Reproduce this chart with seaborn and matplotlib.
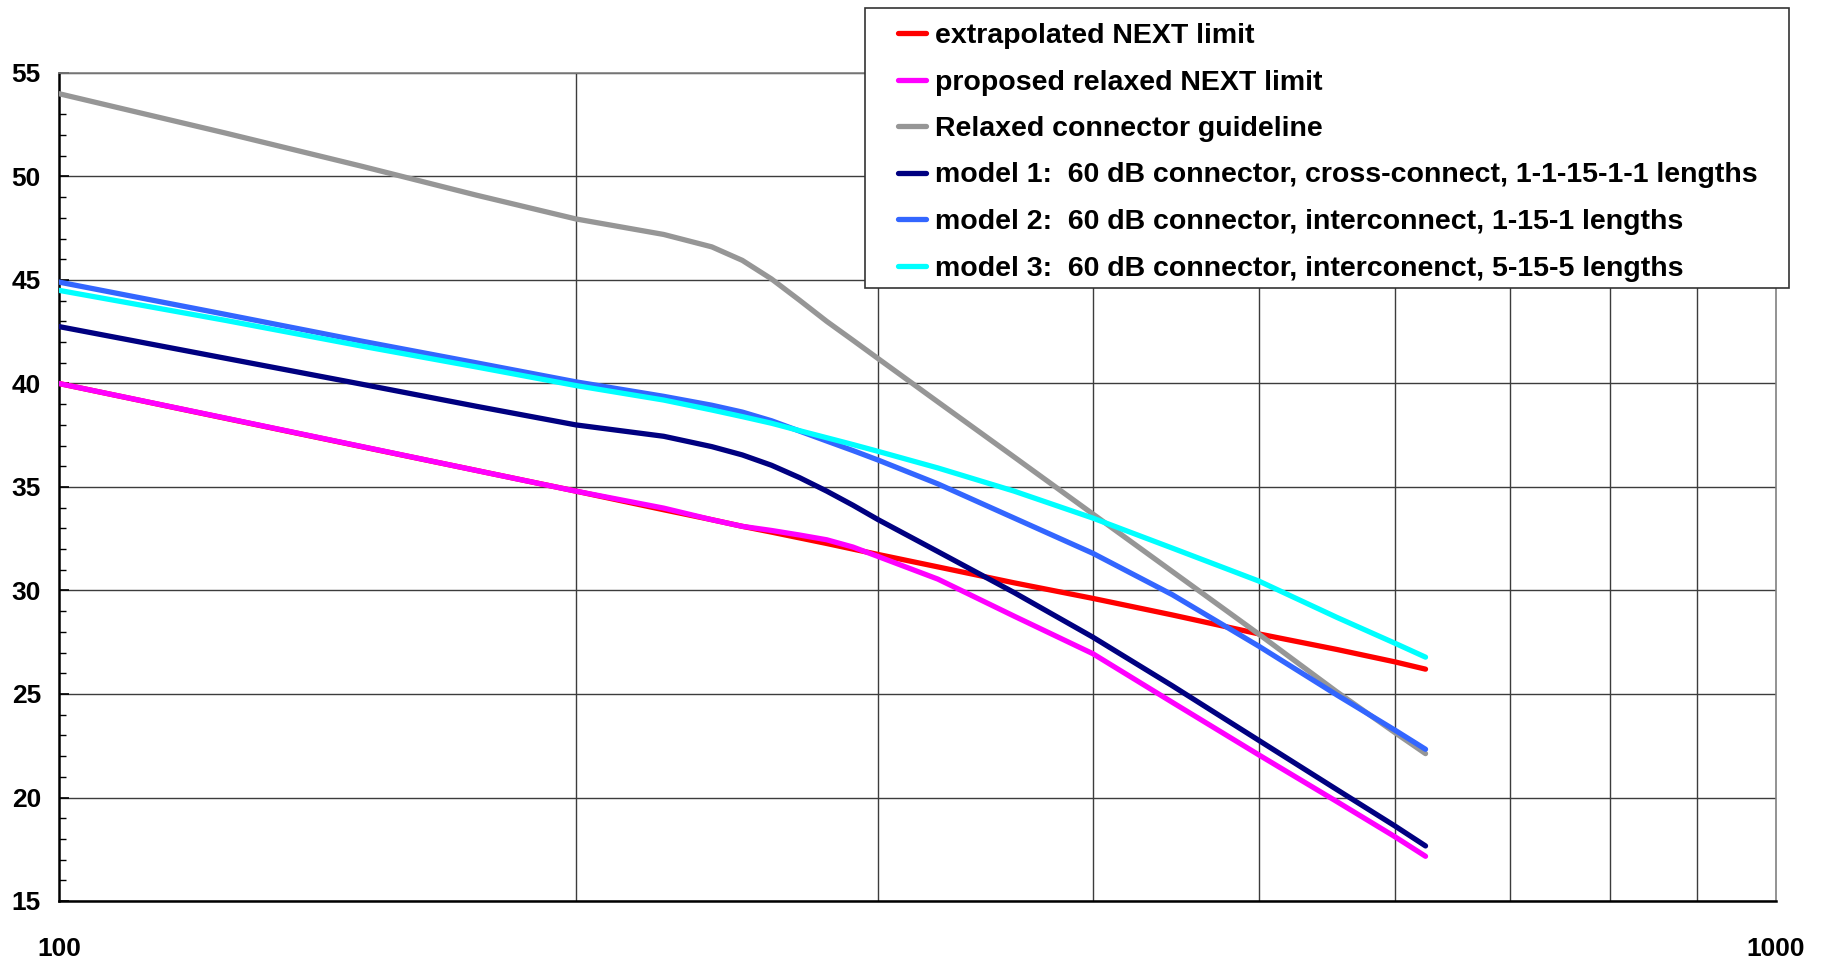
import numpy as np
import pandas as pd
import matplotlib
matplotlib.use("Agg")
import matplotlib.pyplot as plt
import seaborn as sns
from matplotlib.lines import Line2D
from matplotlib.patches import Rectangle
from matplotlib.ticker import LogLocator, NullFormatter, MultipleLocator, FixedLocator, FixedFormatter

# Frequency points (MHz)
freq = [100, 125, 150, 175, 200, 225, 240, 250, 260, 270, 280, 290, 300,
        325, 360, 400, 445, 500, 555, 600, 625]

# NEXT values (dB) for each curve
extrapolated_next = [40.0, 38.32, 36.95, 35.8, 34.8, 33.9, 33.42, 33.1, 32.82, 32.54, 32.27,
                     32.0, 31.74, 31.14, 30.37, 29.62, 28.82, 27.9, 27.15, 26.55, 26.2]
proposed_relaxed = [40.0, 38.33, 36.96, 35.8, 34.8, 33.98, 33.42, 33.1, 32.9, 32.68, 32.45,
                    32.1, 31.64, 30.55, 28.76, 26.95, 24.6, 22.05, 19.8, 18.1, 17.16]
relaxed_guideline = [54.0, 52.1, 50.5, 49.1, 47.95, 47.2, 46.6, 45.95, 45.05, 44.02, 43.0,
                     42.09, 41.2, 39.11, 36.45, 33.7, 30.92, 27.88, 25.1, 23.13, 22.12]
model_1 = [42.75, 41.22, 39.97, 38.9, 38.0, 37.45, 36.95, 36.55, 36.05, 35.45, 34.8,
           34.12, 33.42, 31.88, 29.9, 27.75, 25.4, 22.75, 20.38, 18.62, 17.66]
model_2 = [44.9, 43.34, 42.05, 41.0, 40.08, 39.38, 38.95, 38.62, 38.2, 37.7, 37.22,
           36.76, 36.3, 35.15, 33.5, 31.8, 29.8, 27.3, 24.95, 23.25, 22.33]
model_3 = [44.5, 43.05, 41.81, 40.8, 39.9, 39.2, 38.72, 38.4, 38.08, 37.72, 37.38,
           37.05, 36.72, 35.92, 34.8, 33.5, 32.05, 30.45, 28.7, 27.45, 26.78]

series_names = [
    "extrapolated NEXT limit",
    "proposed relaxed NEXT limit",
    "Relaxed connector guideline",
    "model 1:  60 dB connector, cross-connect, 1-1-15-1-1 lengths",
    "model 2:  60 dB connector, interconnect, 1-15-1 lengths",
    "model 3:  60 dB connector, interconenct, 5-15-5 lengths",
]
series_values = [extrapolated_next, proposed_relaxed, relaxed_guideline, model_1, model_2, model_3]
series_colors = ["#FF0000", "#FF00FF", "#969696", "#000080", "#3366FF", "#00FFFF"]

x_tick_values = [100, 1000]
x_tick_labels = ["100", "1000"]

df = pd.concat(
    [pd.DataFrame({"freq": freq, "value": vals, "series": name})
     for name, vals in zip(series_names, series_values)],
    ignore_index=True,
)

sns.set_theme(style="white")
plt.rcParams["font.family"] = ["Liberation Sans", "DejaVu Sans"]
plt.rcParams["font.weight"] = "bold"
plt.rcParams["text.color"] = "black"
plt.rcParams["xtick.color"] = "black"
plt.rcParams["ytick.color"] = "black"

W, H = 1821, 960
fig = plt.figure(figsize=(W / 100, H / 100), dpi=100)
ax = fig.add_axes([59 / W, 59 / H, (1776 - 59) / W, (901 - 73) / H])

palette = dict(zip(series_names, series_colors))
sns.lineplot(data=df, x="freq", y="value", hue="series", hue_order=series_names,
             palette=palette, linewidth=3.8, estimator=None, sort=False,
             legend=False, ax=ax)
for ln in ax.get_lines():
    ln.set_solid_capstyle("round")
    ln.set_solid_joinstyle("round")
    ln.set_zorder(3)

ax.set_xscale("log")
ax.set_xlim(100, 1000)
ax.set_ylim(15, 55)
ax.set_xlabel("")
ax.set_ylabel("")

# x axis: only the decade ends are labelled, grid on every hundred
ax.xaxis.set_major_locator(FixedLocator(x_tick_values))
ax.xaxis.set_major_formatter(FixedFormatter(x_tick_labels))
ax.xaxis.set_minor_locator(LogLocator(base=10, subs=range(2, 10)))
ax.xaxis.set_minor_formatter(NullFormatter())
ax.tick_params(axis="x", which="both", length=0, pad=26, labelsize=19, labelcolor="black")

ax.yaxis.set_major_locator(MultipleLocator(5))
ax.yaxis.set_minor_locator(MultipleLocator(1))
ax.tick_params(axis="y", which="major", direction="in", length=7, width=1.2,
               color="black", pad=13, labelsize=19, left=True, labelcolor="black")
ax.tick_params(axis="y", which="minor", direction="in", length=5, width=1.0,
               color="black", left=True)
for lab in ax.get_xticklabels() + ax.get_yticklabels():
    lab.set_fontweight("bold")

ax.grid(False)
ax.grid(True, axis="y", which="major", color="#3c3c3c", linewidth=1.0)
ax.grid(True, axis="x", which="minor", color="#3c3c3c", linewidth=1.0)
ax.set_axisbelow(True)

ax.spines["left"].set_color("black")
ax.spines["left"].set_linewidth(1.8)
ax.spines["bottom"].set_color("black")
ax.spines["bottom"].set_linewidth(1.8)
ax.spines["top"].set_color("#808080")
ax.spines["top"].set_linewidth(1.2)
ax.spines["right"].set_color("#808080")
ax.spines["right"].set_linewidth(1.2)

# legend box overlapping the top-right of the plot
fig.add_artist(Rectangle((865 / W, 1 - 288 / H), (1789 - 865) / W, (288 - 8) / H,
                         transform=fig.transFigure, facecolor="white",
                         edgecolor="#333333", linewidth=1.2, zorder=4))
handles = [Line2D([0], [0], color=c, linewidth=3.8, solid_capstyle="round")
           for c in series_colors]
leg = fig.legend(handles, series_names, loc="upper left",
                 bbox_to_anchor=(898 / W, 1 - 23 / H), frameon=False,
                 borderpad=0, borderaxespad=0, handlelength=1.0, handletextpad=0.3,
                 labelspacing=0.72,
                 prop={"family": "Liberation Sans", "weight": "bold", "size": 20.5})
for t in leg.get_texts():
    t.set_color("black")

fig.savefig("out.png", dpi=100)
